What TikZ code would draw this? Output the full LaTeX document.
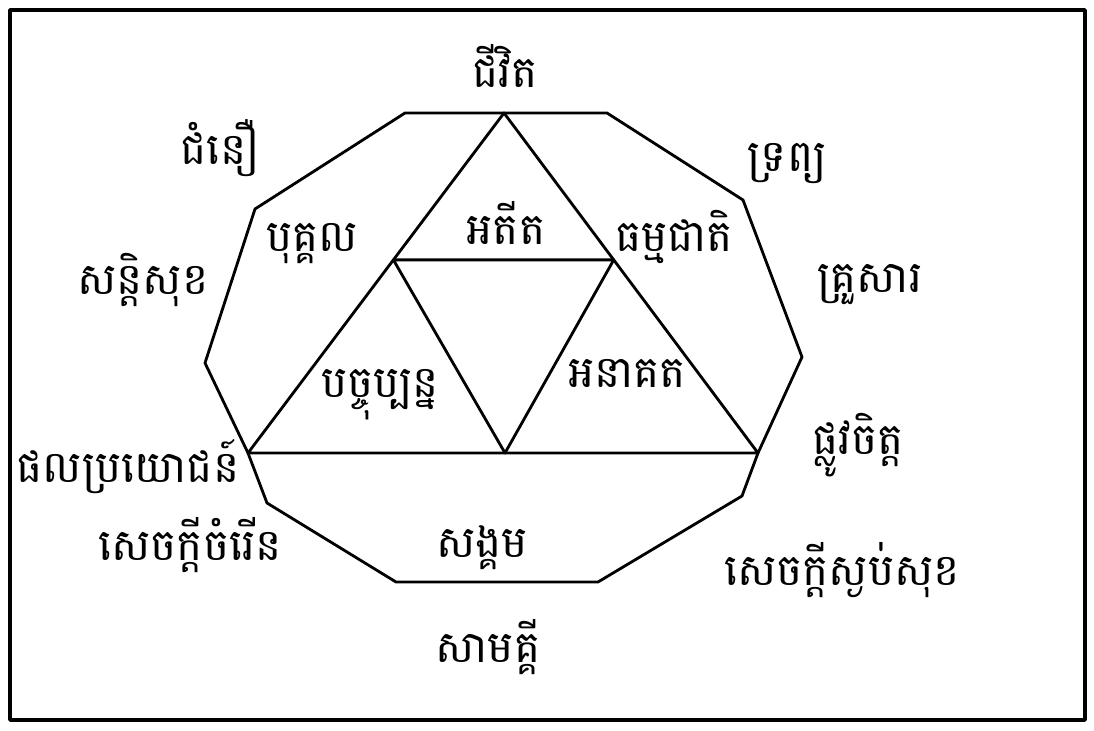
\documentclass[tikz,border=0pt]{standalone}
\usepackage{fontspec}
\newfontfamily\khmer[Script=Khmer]{Battambang}
\usetikzlibrary{calc}

\begin{document}
\begin{tikzpicture}[x=1cm,y=1cm,line cap=round,line join=round,
    word/.style={anchor=base,font=\khmer\fontsize{12.5}{15}\selectfont}]
        \useasboundingbox (0,0) rectangle (10.94,7.30);
        \draw[line width=1.0pt] (0.10,0.10) rectangle (10.85,7.20);

        % outer polygon
        \coordinate (P1) at (4.05,6.17);
        \coordinate (P2) at (6.07,6.17);
        \coordinate (P3) at (7.43,5.30);
        \coordinate (P4) at (8.02,3.73);
        \coordinate (BR) at (7.58,2.77);
        \coordinate (P6) at (7.42,2.34);
        \coordinate (P7) at (5.98,1.48);
        \coordinate (P8) at (3.96,1.48);
        \coordinate (P9) at (2.67,2.27);
        \coordinate (BL) at (2.48,2.77);
        \coordinate (P11) at (2.05,3.67);
        \coordinate (P12) at (2.55,5.21);
        \draw[line width=0.8pt] (P1) -- (P2) -- (P3) -- (P4) -- (BR) -- (P6)
            -- (P7) -- (P8) -- (P9) -- (BL) -- (P11) -- (P12) -- cycle;

        % triangle
        \coordinate (A) at (5.04,6.17);
        \coordinate (L) at ($(A)!0.432!(BL)$);
        \coordinate (R) at ($(A)!0.432!(BR)$);
        \coordinate (B) at (5.05,2.77);
        \draw[line width=0.8pt] (A) -- (BL) -- (BR) -- cycle;
        \draw[line width=0.8pt] (L) -- (R) -- (B) -- cycle;

        % inner words
        \node[word] (past) at (5.06,4.85) {អតីត};
        \node[word] (person) at (3.12,4.78) {បុគ្គល};
        \node[word] (nature) at (6.74,4.78) {ធម្មជាតិ};
        \node[word] (present) at (3.80,3.32) {បច្ចុប្បន្ន};
        \node[word] (future) at (6.27,3.42) {អនាគត};
        \node[word] (society) at (4.82,1.72) {សង្គម};

        % outer words
        \node[word] (life) at (5.05,6.42) {ជីវិត};
        \node[word] (belief) at (2.20,5.65) {ជំនឿ};
        \node[word] (wealth) at (7.87,5.58) {ទ្រព្យ};
        \node[word] (security) at (1.43,4.35) {សន្តិសុខ};
        \node[word] (family) at (8.70,4.37) {គ្រួសារ};
        \node[word] (benefit) at (1.28,2.48) {ផលប្រយោជន៍};
        \node[word] (mind) at (8.58,2.75) {ផ្លូវចិត្ត};
        \node[word] (progress) at (1.90,1.70) {សេចក្តីចំរើន};
        \node[word] (peace) at (8.42,1.45) {សេចក្តីស្ងប់សុខ};
        \node[word] (unity) at (4.88,0.68) {សាមគ្គី};
    \end{tikzpicture}
\end{document}
